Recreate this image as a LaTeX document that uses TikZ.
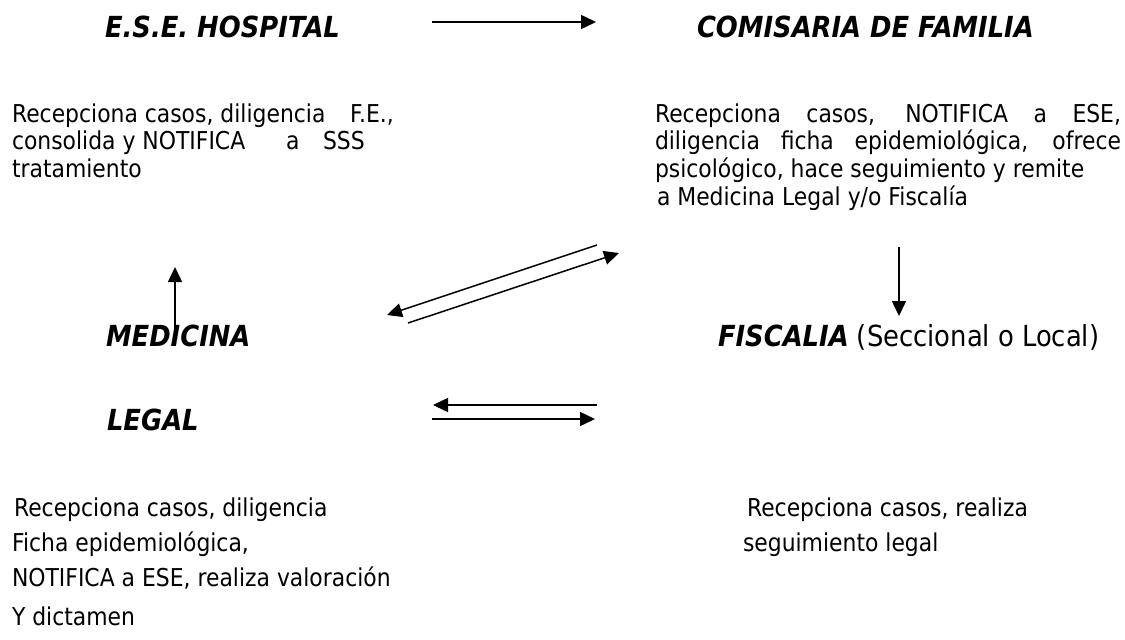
\documentclass[tikz,border=0pt]{standalone}
\usepackage{fontspec}
\setmainfont{DejaVu Sans}[FakeStretch=0.89]
\usetikzlibrary{arrows.meta}
\begin{document}
\begin{tikzpicture}[x=0.5pt,y=-0.5pt,
  txt/.style={anchor=base west,inner sep=0pt,outer sep=0pt,font=\fontsize{12.3pt}{14pt}\selectfont},
  big/.style={anchor=base west,inner sep=0pt,outer sep=0pt,font=\fontsize{14.5pt}{17pt}\selectfont},
  head/.style={big,font=\fontsize{14.5pt}{17pt}\selectfont\bfseries\itshape},
  arr/.style={line width=0.75pt,-{Triangle[length=7.5pt,width=7pt]}}]
\useasboundingbox (0,0) rectangle (1125,639);
% headings
\node[head] (ese) at (105,37) {E.S.E. HOSPITAL};
\node[head] (com) at (697,37) {COMISARIA DE FAMILIA};
\node[head] (med) at (106,346) {MEDICINA};
\node[head] (leg) at (107,430) {LEGAL};
\node[big] (fis) at (718,346) {{\bfseries\itshape FISCALIA} (Seccional o Local)};
% left paragraph
\node[txt] (l1) at (12,122) {\makebox[169pt][l]{Recepciona casos, diligencia}F.E.,};
\node[txt] (l2) at (12,149.5) {\makebox[137pt][l]{consolida y NOTIFICA}\makebox[18.5pt][l]{a}SSS};
\node[txt] (l3) at (12,177) {tratamiento};
% right paragraph
\node[txt] (r1) at (655,122) {\makebox[233pt][s]{Recepciona casos, NOTIFICA a ESE,}};
\node[txt] (r2) at (655,149.5) {\makebox[233pt][s]{diligencia ficha epidemiológica, ofrece}};
\node[txt] (r3) at (655,177) {psicológico, hace seguimiento y remite};
\node[txt] (r4) at (657,205) {a Medicina Legal y/o Fiscalía};
% bottom left
\node[txt] (b1) at (14,516) {Recepciona casos, diligencia};
\node[txt] (b2) at (12,551) {Ficha epidemiológica,};
\node[txt] (b3) at (12,586) {NOTIFICA a ESE, realiza valoración};
\node[txt] (b4) at (12,625) {Y dictamen};
% bottom right
\node[txt] (c1) at (747,516) {Recepciona casos, realiza};
\node[txt] (c2) at (743,551) {seguimiento legal};
% arrow end points
\coordinate (t1) at (432,22); \coordinate (t2) at (596,22);
\coordinate (u1) at (175,337); \coordinate (u2) at (175,267);
\coordinate (d1) at (597,245); \coordinate (d2) at (387,315);
\coordinate (e1) at (408,323); \coordinate (e2) at (619,253);
\coordinate (v1) at (899,247); \coordinate (v2) at (899,316);
\coordinate (h1) at (597,405); \coordinate (h2) at (433,405);
\coordinate (g1) at (432,419); \coordinate (g2) at (595,419);
\draw[arr] (t1) -- (t2);
\draw[arr] (u1) -- (u2);
\draw[arr] (d1) -- (d2);
\draw[arr] (e1) -- (e2);
\draw[arr] (v1) -- (v2);
\draw[arr] (h1) -- (h2);
\draw[arr] (g1) -- (g2);
\end{tikzpicture}
\end{document}
